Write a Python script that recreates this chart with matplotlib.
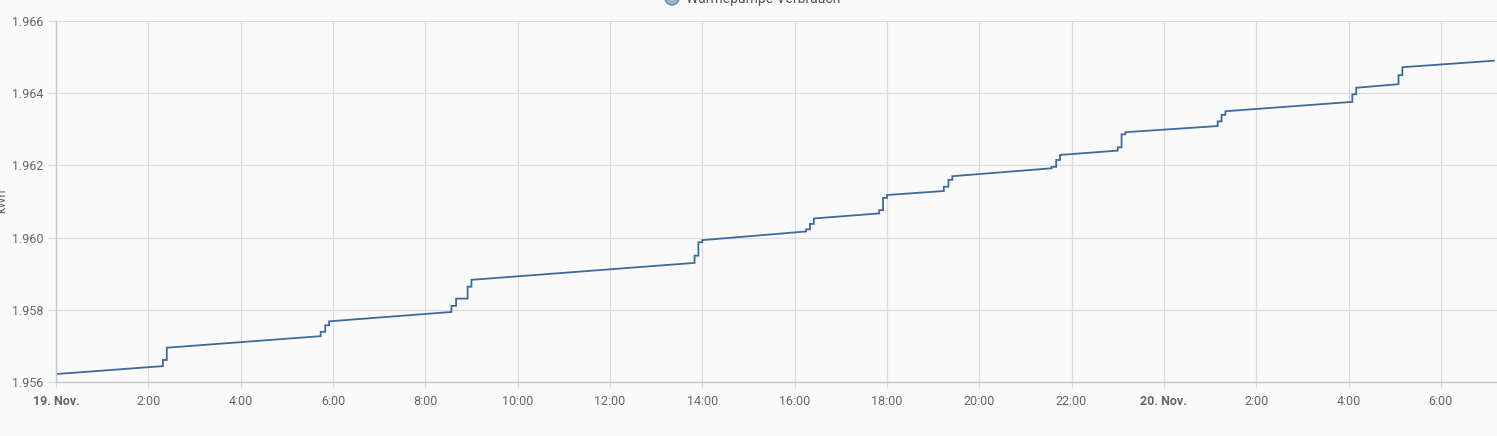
import matplotlib
matplotlib.use("Agg")
import matplotlib.pyplot as plt
import matplotlib.dates as mdates
import matplotlib.ticker as mticker
from datetime import datetime

plt.rcParams['font.family'] = ['Roboto', 'DejaVu Sans']

# meter reading, Wärmepumpe Verbrauch
times = [
    "11-19 00:00", "11-19 02:19", "11-19 02:19", "11-19 02:24", "11-19 02:24",
    "11-19 05:44", "11-19 05:44", "11-19 05:50", "11-19 05:50", "11-19 05:55", "11-19 05:55",
    "11-19 08:34", "11-19 08:34", "11-19 08:40", "11-19 08:40", "11-19 08:55", "11-19 08:55",
    "11-19 09:00", "11-19 09:00",
    "11-19 13:50", "11-19 13:50", "11-19 13:55", "11-19 13:55", "11-19 14:00", "11-19 14:00",
    "11-19 16:15", "11-19 16:15", "11-19 16:20", "11-19 16:20", "11-19 16:25", "11-19 16:25",
    "11-19 17:50", "11-19 17:50", "11-19 17:55", "11-19 17:55", "11-19 18:00", "11-19 18:00",
    "11-19 19:14", "11-19 19:14", "11-19 19:20", "11-19 19:20", "11-19 19:25", "11-19 19:25",
    "11-19 21:34", "11-19 21:34", "11-19 21:40", "11-19 21:40", "11-19 21:45", "11-19 21:45",
    "11-19 23:00", "11-19 23:00", "11-19 23:05", "11-19 23:05", "11-19 23:10", "11-19 23:10",
    "11-20 01:10", "11-20 01:10", "11-20 01:15", "11-20 01:15", "11-20 01:20", "11-20 01:20",
    "11-20 04:05", "11-20 04:05", "11-20 04:10", "11-20 04:10",
    "11-20 05:05", "11-20 05:05", "11-20 05:10", "11-20 05:10",
    "11-20 07:09",
]
values = [
    1.95622, 1.95644, 1.95661, 1.95661, 1.95695,
    1.95727, 1.95739, 1.95739, 1.95757, 1.95757, 1.95768,
    1.95794, 1.95811, 1.95811, 1.95831, 1.95831, 1.95864,
    1.95864, 1.95883,
    1.95930, 1.95950, 1.95950, 1.95987, 1.95987, 1.95993,
    1.96017, 1.96023, 1.96023, 1.96038, 1.96038, 1.96053,
    1.96067, 1.96076, 1.96076, 1.96110, 1.96110, 1.96118,
    1.96129, 1.96141, 1.96141, 1.96160, 1.96160, 1.96170,
    1.96192, 1.96196, 1.96196, 1.96215, 1.96215, 1.96229,
    1.96241, 1.96250, 1.96250, 1.96286, 1.96286, 1.96292,
    1.96309, 1.96322, 1.96322, 1.96340, 1.96340, 1.96350,
    1.96376, 1.96397, 1.96397, 1.96415,
    1.96425, 1.96450, 1.96450, 1.96472,
    1.96490,
]
series_name = "Wärmepumpe Verbrauch"
y_ticks = [1.956, 1.958, 1.960, 1.962, 1.964, 1.966]

dates = [datetime.strptime("2023-" + t, "%Y-%m-%d %H:%M") for t in times]

bg = "#fafafa"
grid_c = "#dcdcdc"
txt_c = "#666666"

fig = plt.figure(figsize=(14.97, 4.36), dpi=100, facecolor=bg)
ax = fig.add_axes([56 / 1497, 1 - 382 / 436, 1 - 56 / 1497, (382 - 21) / 436])
ax.set_facecolor(bg)

ax.plot(dates, values, color="#3d6a9c", lw=1.3, solid_joinstyle="miter")

ax.set_xlim(datetime(2023, 11, 19, 0, 0), datetime(2023, 11, 20, 7, 13))
ax.set_ylim(1.956, 1.966)
ax.set_yticks(y_ticks)
ax.yaxis.set_major_formatter(mticker.FuncFormatter(lambda v, p: f"{v:.3f}"))

ax.xaxis.set_major_locator(mdates.HourLocator(byhour=range(0, 24, 2)))


def fmt_x(v, pos):
    d = mdates.num2date(v)
    if d.hour == 0 and d.minute == 0:
        return f"{d.day}. Nov."
    return f"{d.hour}:{d.minute:02d}"


ax.xaxis.set_major_formatter(mticker.FuncFormatter(fmt_x))

ax.grid(True, color=grid_c, lw=0.9)
ax.set_axisbelow(True)
for s in ["top", "right"]:
    ax.spines[s].set_visible(False)
for s in ["left", "bottom"]:
    ax.spines[s].set_color("#c8c8c8")
    ax.spines[s].set_linewidth(1.0)

ax.tick_params(axis="both", colors=grid_c, labelcolor=txt_c, labelsize=9, length=4, width=0.9)
ax.tick_params(axis="x", pad=5)
ax.tick_params(axis="y", pad=3, length=6)
for lab in ax.get_xticklabels():
    if "Nov" in lab.get_text():
        lab.set_fontweight("bold")

# y label and legend, both partly outside the picture as in the source screenshot
fig.text(2 / 1497, 1 - 201 / 436, "kWh", rotation=90, ha="center", va="center",
         color=txt_c, fontsize=9)
fig.text(686 / 1497, 1 + 1 / 436, series_name, ha="left", va="center",
         color="#555555", fontsize=10)
fig.patches.append(matplotlib.patches.Ellipse((672 / 1497, 1 - (-2) / 436), 14 / 1497, 14 / 436,
                                              transform=fig.transFigure, facecolor="#9db3cf",
                                              edgecolor="#6a89b0", lw=1.0))

fig.savefig("out.png", dpi=100, facecolor=bg)
